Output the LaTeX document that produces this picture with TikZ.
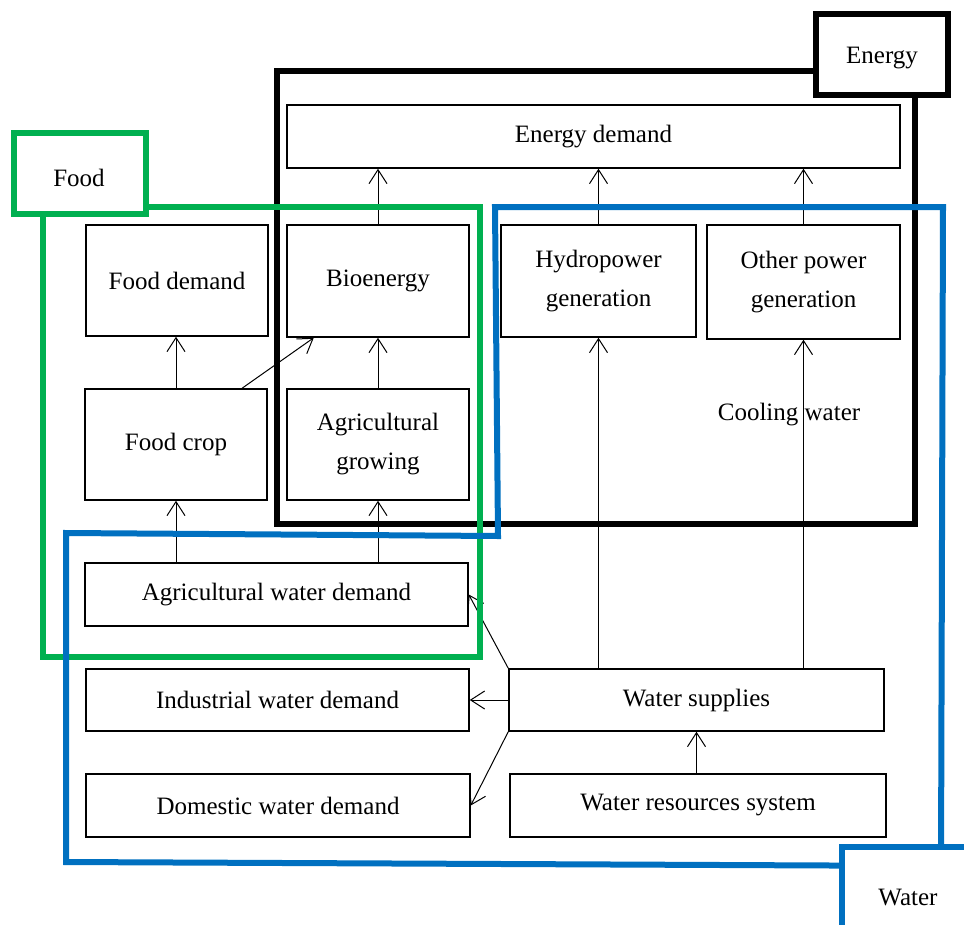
\documentclass[tikz,border=0pt]{standalone}
\usepackage{fontspec}
\setmainfont{Liberation Serif}
\usetikzlibrary{arrows.meta,calc}
\definecolor{fgreen}{RGB}{0,176,80}
\definecolor{wblue}{RGB}{0,112,192}
\begin{document}
\begin{tikzpicture}[x=1pt,y=-1pt,
  every node/.style={font=\fontsize{25}{39}\selectfont},
  blk/.style={draw, line width=1.5pt, inner sep=0pt, align=center},
  arr/.style={line width=1pt, -{Straight Barb[length=14pt,width=18pt,line width=1pt]}},
  region/.style={line width=6pt, line join=miter},
  lbl/.style={draw, fill=white, line width=6pt, inner sep=0pt}]
\useasboundingbox (0,0) rectangle (964,924);
\clip (0,0) rectangle (964,924);
% boxes
\node[blk, minimum width=613pt, minimum height=63pt] (ed) at (593.5,136.5) {Energy demand};
\node[blk, minimum width=182pt, minimum height=111pt] (fd) at (177,280.5) {Food demand};
\node[blk, minimum width=182pt, minimum height=112pt] (bio) at (378,281) {Bioenergy};
\node[blk, minimum width=195pt, minimum height=112pt] (hyd) at (598.5,281) {Hydropower\\generation};
\node[blk, minimum width=193pt, minimum height=114pt] (oth) at (803.5,282) {Other power\\generation};
\node[blk, minimum width=182pt, minimum height=111pt] (fc) at (176,444.5) {Food crop};
\node[blk, minimum width=182pt, minimum height=111pt] (ag) at (378,444.5) {Agricultural\\growing};
\node (cw) at (789,415) {Cooling water};
\node[blk, minimum width=383pt, minimum height=63pt] (aw) at (276.5,594.5) {Agricultural water demand};
\node[blk, minimum width=383pt, minimum height=62pt] (ind) at (277.5,700) {Industrial water demand};
\node[blk, minimum width=384pt, minimum height=63pt] (dom) at (278,805.5) {Domestic water demand};
\node[blk, minimum width=375pt, minimum height=62pt] (ws) at (696.5,700) {Water supplies};
\node[blk, minimum width=376pt, minimum height=63pt] (wr) at (698,805.5) {Water resources system};
% arrows
\draw[arr] (bio.north) -- (bio.north |- ed.south);
\draw[arr] (hyd.north) -- (hyd.north |- ed.south);
\draw[arr] (oth.north) -- (oth.north |- ed.south);
\draw[arr] (fc.north) -- (fc.north |- fd.south);
\draw[arr] ($(fc.north west)!0.86!(fc.north east)$) -- ($(bio.south west)!0.15!(bio.south east)$);
\draw[arr] (ag.north) -- (ag.north |- bio.south);
\draw[arr] (aw.north -| fc.south) -- (fc.south);
\draw[arr] (aw.north -| ag.south) -- (ag.south);
\draw[arr] (ws.north -| hyd.south) -- (hyd.south);
\draw[arr] (ws.north -| oth.south) -- (oth.south);
\draw[arr] (ws.north west) -- (aw.east);
\draw[arr] (ws.west) -- (ind.east);
\draw[arr] (ws.south west) -- (dom.east);
\draw[arr] (ws.south |- wr.north) -- (ws.south);
% regions
\draw[region, black] (277,71) rectangle (915,524);
\node[lbl, draw=black, minimum width=132pt, minimum height=81pt] (en) at (882,54.5) {};
\node (ent) at (882,58) {Energy};
\draw[region, fgreen] (43,207) rectangle (480,657);
\node[lbl, draw=fgreen, minimum width=132pt, minimum height=81pt] (fo) at (80,173.5) {};
\node (fot) at (79,178) {Food};
\draw[region, wblue] (495,207) -- (943,207) -- (941,866) -- (66,862) -- (66,533) -- (498,536) -- cycle;
\node[lbl, draw=wblue, minimum width=140pt, minimum height=100pt] (wa) at (912,897) {};
\node (wat) at (908,897) {Water};
\end{tikzpicture}
\end{document}
